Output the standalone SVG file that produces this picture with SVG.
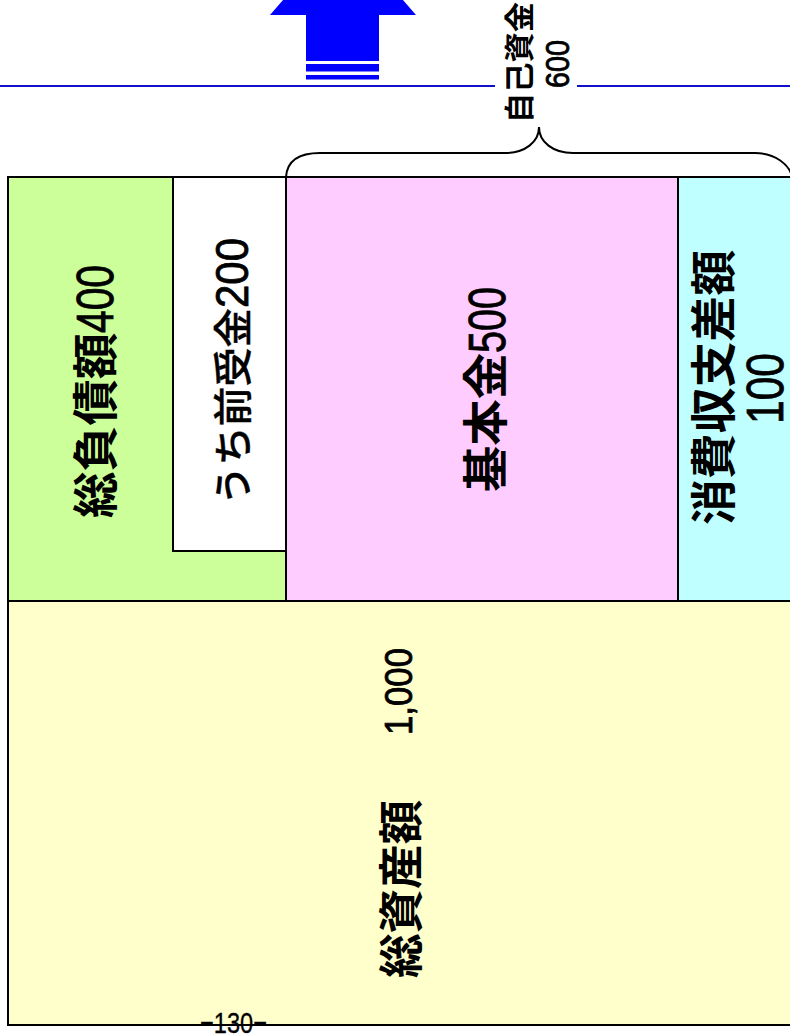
<svg xmlns="http://www.w3.org/2000/svg" width="790" height="1034" viewBox="0 0 790 1034">
<style>
.box{stroke:#000;stroke-width:2}
.cj{font-family:"Noto Sans CJK JP","Noto Sans CJK SC",sans-serif;font-weight:bold;fill:#000}
.cn{font-family:"Noto Sans CJK JP","Noto Sans CJK SC",sans-serif;font-weight:500;fill:#000;stroke:#000;stroke-width:0.4}
.num{font-family:"Liberation Sans",Arial,sans-serif;fill:#000;stroke:#000;stroke-width:0.8}
.blue{fill:#0000FF}
</style>
<rect width="790" height="1034" fill="#fff"/>
<g id="arrow">
<polygon class="blue" points="343,-69 416,15 379,15 379,61 306,61 306,15 270,15"/>
<rect class="blue" x="306" y="64" width="73" height="7.5"/>
<rect class="blue" x="306" y="75" width="73" height="4.5"/>
</g>
<g id="hline">
<line x1="0" y1="86" x2="495" y2="86" stroke="#1010CC" stroke-width="2"/>
<line x1="577" y1="86" x2="790" y2="86" stroke="#1010CC" stroke-width="2"/>
</g>
<g id="assets">
<rect class="box" x="8" y="601" width="800" height="424" fill="#FFFFCC"/>
<text class="cj" font-size="45" transform="translate(418,978) rotate(-90)" textLength="178" lengthAdjust="spacingAndGlyphs">総資産額</text>
<text class="num" font-size="38" transform="translate(412,735) rotate(-90)" textLength="87" lengthAdjust="spacingAndGlyphs">1,000</text>
</g>
<g id="liabilities">
<rect class="box" x="8" y="177" width="278" height="424" fill="#CCFF99"/>
<text class="cj" font-size="46" transform="translate(111.5,518) rotate(-90)" textLength="185" lengthAdjust="spacingAndGlyphs">総負債額</text>
<text class="num" font-size="52" transform="translate(113,333) rotate(-90)" textLength="68" lengthAdjust="spacingAndGlyphs">400</text>
</g>
<g id="advance">
<rect class="box" x="173" y="177" width="114" height="374" fill="#FFFFFF"/>
<text class="cn" font-size="39" transform="translate(246.5,505) rotate(-90)" textLength="197" lengthAdjust="spacingAndGlyphs">うち前受金</text>
<text class="num" font-size="46" transform="translate(248,308) rotate(-90)" textLength="70" lengthAdjust="spacingAndGlyphs">200</text>
</g>
<g id="fund">
<rect class="box" x="286" y="177" width="392" height="424" fill="#FFCCFF"/>
<text class="cj" font-size="46" transform="translate(501.5,492) rotate(-90)" textLength="139" lengthAdjust="spacingAndGlyphs">基本金</text>
<text class="num" font-size="52" transform="translate(505,353) rotate(-90)" textLength="66" lengthAdjust="spacingAndGlyphs">500</text>
</g>
<g id="balance">
<rect class="box" x="678" y="177" width="130" height="424" fill="#BFFFFF"/>
<text class="cj" font-size="46" transform="translate(729.5,525) rotate(-90)" textLength="275" lengthAdjust="spacingAndGlyphs">消費収支差額</text>
<text class="num" font-size="52" transform="translate(783,424) rotate(-90)" textLength="71" lengthAdjust="spacingAndGlyphs">100</text>
</g>
<g id="equity">
<path d="M286,177 C287,162 298,153 320,153 L505,153 C525,153 539,142 539,127 C539,142 553,153 573,153 L755,153 C775,153 790,165 792,177" fill="none" stroke="#000" stroke-width="2"/>
<text class="cj" font-size="30" transform="translate(530,123) rotate(-90)" textLength="121" lengthAdjust="spacingAndGlyphs">自己資金</text>
<text class="num" font-size="33" transform="translate(569,88) rotate(-90)" textLength="48" lengthAdjust="spacingAndGlyphs">600</text>
</g>
<text class="num" font-size="30" x="200" y="1033" textLength="67" lengthAdjust="spacingAndGlyphs" style="stroke-width:0.3">−130−</text>
</svg>
